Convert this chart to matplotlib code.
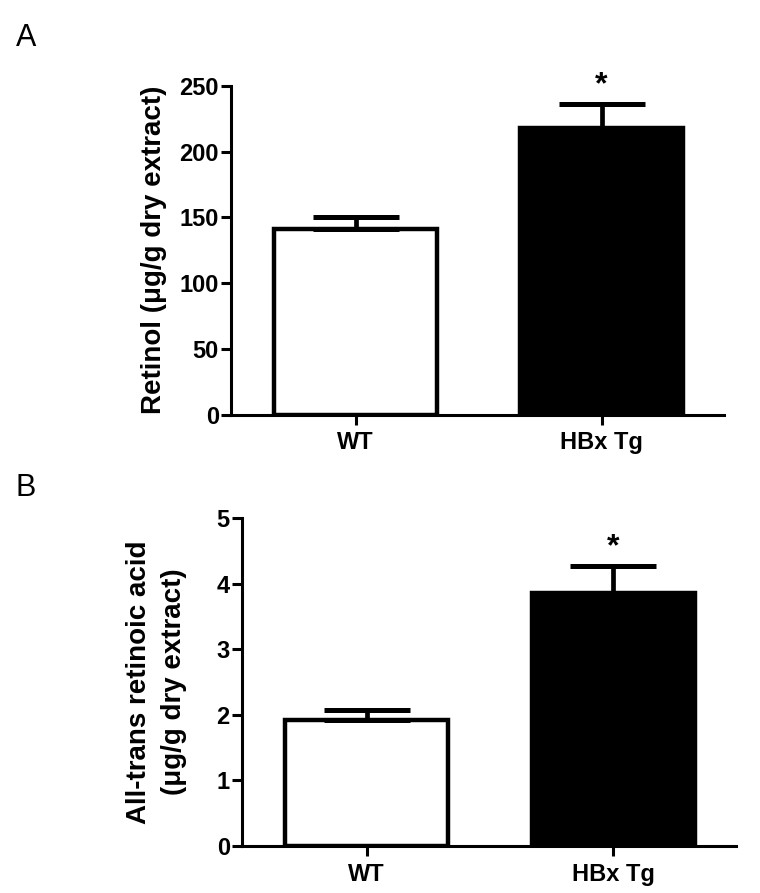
import matplotlib
matplotlib.use("Agg")
import matplotlib.pyplot as plt

plt.rcParams['font.family'] = ['Liberation Sans', 'DejaVu Sans']
plt.rcParams['font.weight'] = 'bold'

groups = ['WT', 'HBx Tg']
bar_colors = ['white', 'black']

retinol_mean = [141, 218]
retinol_sem = [9.5, 18.5]

atra_mean = [1.92, 3.85]
atra_sem = [0.15, 0.42]


def draw_panel(ax, means, sems, ymax, yticks, ylabel, label_x):
    x = range(len(groups))
    ax.bar(x, means, width=0.66, color=bar_colors, edgecolor='black',
           linewidth=3.2, zorder=2)
    ax.errorbar(x, means, yerr=[[0] * len(sems), sems], fmt='none',
                ecolor='black', elinewidth=3.4, capsize=31, capthick=3.6,
                zorder=3)
    # significance mark above the Tg bar
    ax.text(1, means[1] + sems[1] + ymax * 0.012, '*', ha='center',
            va='bottom', fontsize=23, fontweight='bold')

    ax.set_xlim(-0.507, 1.497)
    ax.set_ylim(0, ymax)
    ax.set_yticks(yticks)
    ax.set_xticks(list(x))
    ax.set_xticklabels(groups)
    for side in ['top', 'right']:
        ax.spines[side].set_visible(False)
    for side in ['left', 'bottom']:
        ax.spines[side].set_linewidth(2.2)
    ax.tick_params(axis='y', length=7, width=2.2, pad=1.5, labelsize=17)
    ax.tick_params(axis='x', length=7, width=2.2, pad=5, labelsize=17)
    ax.set_ylabel(ylabel, fontsize=20, fontweight='bold',
                  multialignment='center', linespacing=1.45)
    ax.yaxis.set_label_coords(label_x, 0.5)


fig = plt.figure(figsize=(7.6, 8.93), dpi=100)

ax_a = fig.add_axes([0.3036, 0.5358, 0.649, 0.3679])
draw_panel(ax_a, retinol_mean, retinol_sem, 250, [0, 50, 100, 150, 200, 250],
           'Retinol (\u03bcg/g dry extract)', -0.129)

ax_b = fig.add_axes([0.318, 0.0526, 0.650, 0.3673])
draw_panel(ax_b, atra_mean, atra_sem, 5, [0, 1, 2, 3, 4, 5],
           'All-trans retinoic acid\n(\u03bcg/g dry extract)', -0.111)

fig.text(0.034, 0.957, 'A', fontsize=22, fontweight='normal',
         ha='center', va='center')
fig.text(0.034, 0.454, 'B', fontsize=22, fontweight='normal',
         ha='center', va='center')

fig.savefig('out.png', dpi=100)
